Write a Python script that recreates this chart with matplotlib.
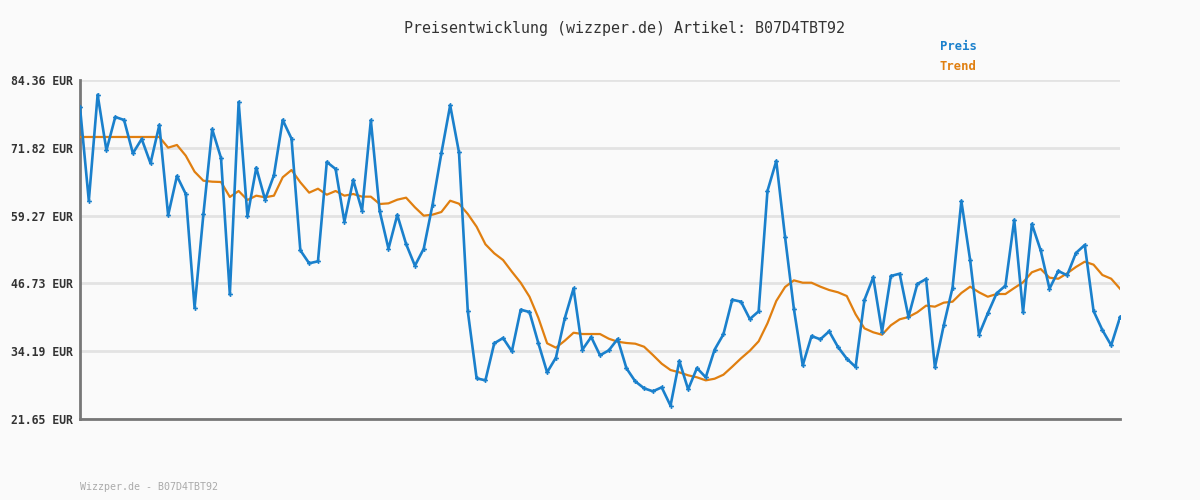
import numpy as np
import matplotlib.pyplot as plt

# price readings (EUR), one per sample
preis = [79.31, 62.03, 81.64, 71.35, 77.52, 76.96, 70.80, 73.45, 68.95, 76.03,
         59.33, 66.60, 63.27, 42.24, 59.51, 75.24, 69.93, 44.72, 80.29, 59.14,
         68.14, 62.22, 66.73, 76.96, 73.50, 52.85, 50.45, 50.82, 69.19, 67.90,
         58.15, 65.86, 60.18, 76.90, 60.12, 53.15, 59.39, 54.02, 50.01, 53.15,
         61.29, 70.80, 79.68, 70.98, 41.57, 29.18, 28.80, 35.65, 36.63, 34.17,
         41.87, 41.44, 35.71, 30.28, 33.00, 40.27, 45.80, 34.47, 36.82, 33.43,
         34.35, 36.45, 31.03, 28.62, 27.33, 26.77, 27.51, 24.11, 32.38, 27.14,
         31.08, 29.36, 34.47, 37.31, 43.72, 43.35, 40.14, 41.57, 63.83, 69.37,
         55.26, 42.00, 31.58, 37.00, 36.39, 37.87, 34.97, 32.81, 31.27, 43.66,
         47.86, 37.75, 48.10, 48.53, 40.52, 46.62, 47.55, 31.21, 38.98, 45.94,
         61.97, 51.00, 37.24, 41.20, 44.90, 46.31, 58.46, 41.39, 57.72, 52.85,
         45.75, 49.03, 48.23, 52.36, 53.84, 41.63, 38.11, 35.28, 40.46]

trend = [73.82, 73.82, 73.82, 73.82, 73.82, 73.82, 73.82, 73.82, 73.82, 73.82,
         71.84, 72.34, 70.36, 67.40, 65.73, 65.55, 65.49, 62.72, 63.83, 62.16,
         62.96, 62.66, 62.96, 66.36, 67.71, 65.43, 63.52, 64.25, 63.14, 63.83,
         62.96, 63.27, 62.78, 62.78, 61.42, 61.54, 62.22, 62.59, 60.81, 59.26,
         59.45, 59.94, 62.03, 61.48, 59.57, 57.22, 53.97, 52.30, 51.06, 48.90,
         46.86, 44.27, 40.39, 35.65, 34.84, 36.13, 37.61, 37.37, 37.37, 37.37,
         36.50, 35.95, 35.71, 35.58, 35.02, 33.49, 31.88, 30.71, 30.28, 29.73,
         29.36, 28.80, 29.10, 29.84, 31.32, 32.87, 34.28, 36.02, 39.35, 43.48,
         46.07, 47.30, 46.86, 46.86, 46.13, 45.51, 45.09, 44.40, 41.02, 38.42,
         37.69, 37.24, 38.98, 40.09, 40.52, 41.39, 42.62, 42.43, 43.17, 43.35,
         44.96, 46.13, 45.09, 44.27, 44.77, 44.77, 45.88, 46.94, 48.79, 49.40,
         47.79, 47.60, 48.60, 49.77, 50.75, 50.20, 48.29, 47.60, 45.75]

y_ticks = [21.65, 34.19, 46.73, 59.27, 71.82, 84.36]
asin = "B07D4TBT92"

blue = "#1a80cc"
orange = "#e07f10"
bg = "#fafafa"
mono = "DejaVu Sans Mono"

fig = plt.figure(figsize=(12, 5), dpi=100, facecolor=bg)
ax = fig.add_axes([80 / 1200, 1 - 419 / 500, 1040 / 1200, 339 / 500], facecolor=bg)

x = np.arange(len(preis))
ax.plot(x, trend, color=orange, lw=1.6, zorder=3)
ax.plot(x, preis, color=blue, lw=1.9, marker="P", ms=3.5, mew=0, zorder=4)

ax.set_xlim(0, len(preis) - 1)
ax.set_ylim(y_ticks[0], y_ticks[-1])
ax.set_yticks(y_ticks)
ax.set_yticklabels(["%.2f EUR" % v for v in y_ticks], family=mono,
                   fontweight="bold", fontsize=8.3, color="#333333")
ax.set_xticks([])
ax.tick_params(axis="y", length=0, pad=5)
ax.grid(axis="y", color="#e3e3e3", lw=2)
ax.set_axisbelow(True)
for side in ["top", "right"]:
    ax.spines[side].set_visible(False)
for side in ["left", "bottom"]:
    ax.spines[side].set_color("#777777")
    ax.spines[side].set_linewidth(2)

fig.text(624 / 1200, 1 - 28 / 500, "Preisentwicklung (wizzper.de) Artikel: " + asin,
         ha="center", va="center", family=mono, fontsize=10.8, color="#333333")
fig.text(940 / 1200, 1 - 47 / 500, "Preis", ha="left", va="center", family=mono,
         fontsize=8.8, fontweight="bold", color=blue)
fig.text(940 / 1200, 1 - 67 / 500, "Trend", ha="left", va="center", family=mono,
         fontsize=8.8, fontweight="bold", color=orange)
fig.text(80 / 1200, 1 - 487 / 500, "Wizzper.de - " + asin, ha="left", va="center",
         family=mono, fontsize=7.2, color="#aaaaaa")

fig.savefig("out.png", facecolor=bg)
